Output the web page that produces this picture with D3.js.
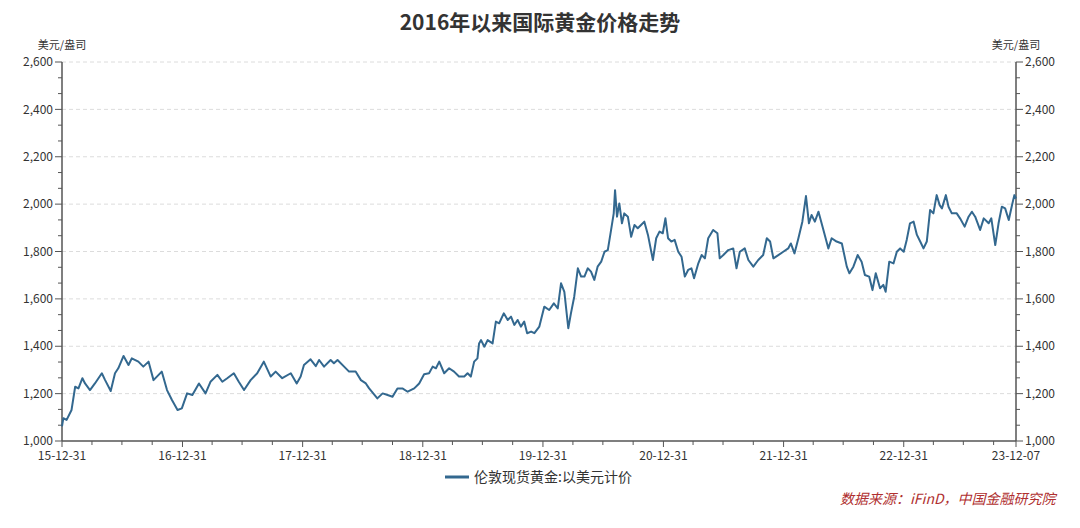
<!DOCTYPE html>
<html><head><meta charset="utf-8">
<script src="https://cdn.jsdelivr.net/npm/d3@7/dist/d3.min.js"></script>
<style>
html,body{margin:0;padding:0;background:#fff;}
svg{display:block;font-family:"Noto Sans CJK SC","Noto Sans",sans-serif;}
</style></head>
<body><svg id="chart" width="1080" height="528"></svg>
<script>
const title = "2016年以来国际黄金价格走势";
const unitLabel = "美元/盎司";
const seriesName = "伦敦现货黄金:以美元计价";
const sourceText = "数据来源：iFinD，中国金融研究院";
const yTicks = [1000,1200,1400,1600,1800,2000,2200,2400,2600];
const xTickLabels = ["15-12-31","16-12-31","17-12-31","18-12-31","19-12-31","20-12-31","21-12-31","22-12-31","23-12-07"];
const xTickDates = ["2015-12-31","2016-12-31","2017-12-31","2018-12-31","2019-12-31","2020-12-31","2021-12-31","2022-12-31","2023-12-07"];

const dates = [
"2015-12-31","2016-01-04","2016-01-14","2016-01-29","2016-02-09","2016-02-19","2016-03-02","2016-03-10","2016-03-25","2016-04-09","2016-04-30","2016-05-10","2016-05-27","2016-06-09","2016-06-19","2016-07-05","2016-07-20","2016-07-30","2016-08-19","2016-09-03","2016-09-19","2016-10-04","2016-10-29","2016-11-14","2016-11-29","2016-12-16","2016-12-29",
"2017-01-14","2017-01-30","2017-02-19","2017-03-11","2017-03-26","2017-04-16","2017-05-01","2017-05-16","2017-06-05","2017-06-20","2017-07-06","2017-07-26","2017-08-15","2017-09-04","2017-09-25","2017-10-10","2017-10-30","2017-11-25","2017-12-13","2017-12-25",
"2018-01-04","2018-01-24","2018-02-09","2018-02-19","2018-03-06","2018-03-26","2018-04-05","2018-04-16","2018-05-06","2018-05-21","2018-06-10","2018-06-26","2018-07-11","2018-07-21","2018-08-15","2018-08-31","2018-09-15","2018-09-30","2018-10-15","2018-10-30","2018-11-15","2018-12-05","2018-12-20",
"2019-01-04","2019-01-19","2019-01-30","2019-02-09","2019-02-19","2019-03-06","2019-03-21","2019-04-05","2019-04-20","2019-05-06","2019-05-16","2019-05-26","2019-06-05","2019-06-15","2019-06-20","2019-06-26","2019-07-06","2019-07-16","2019-07-31","2019-08-10","2019-08-20","2019-09-03","2019-09-15","2019-09-25","2019-10-05","2019-10-15","2019-10-25","2019-11-04","2019-11-13","2019-11-25","2019-12-05","2019-12-20",
"2020-01-04","2020-01-19","2020-02-02","2020-02-14","2020-02-24","2020-03-05","2020-03-17","2020-03-25","2020-04-04","2020-04-15","2020-04-25","2020-05-05","2020-05-15","2020-05-25","2020-06-04","2020-06-14","2020-06-25","2020-07-05","2020-07-15","2020-07-25","2020-08-02","2020-08-06","2020-08-12","2020-08-19","2020-08-27","2020-09-03","2020-09-14","2020-09-24","2020-10-04","2020-10-14","2020-10-24","2020-11-03","2020-11-14","2020-11-29","2020-12-09","2020-12-19","2020-12-29",
"2021-01-06","2021-01-14","2021-01-24","2021-02-03","2021-02-14","2021-02-24","2021-03-06","2021-03-16","2021-03-26","2021-04-03","2021-04-16","2021-04-26","2021-05-06","2021-05-16","2021-05-31","2021-06-13","2021-06-20","2021-07-01","2021-07-16","2021-07-31","2021-08-10","2021-08-20","2021-09-04","2021-09-15","2021-09-30","2021-10-15","2021-10-30","2021-11-10","2021-11-20","2021-11-30","2021-12-15","2021-12-30",
"2022-01-14","2022-01-22","2022-02-02","2022-02-14","2022-02-26","2022-03-09","2022-03-18","2022-03-26","2022-04-05","2022-04-16","2022-05-01","2022-05-16","2022-05-26","2022-06-10","2022-06-26","2022-07-11","2022-07-19","2022-07-31","2022-08-13","2022-08-25","2022-09-04","2022-09-17","2022-09-27","2022-10-07","2022-10-20","2022-10-30","2022-11-06","2022-11-17","2022-11-30","2022-12-10","2022-12-20","2022-12-31",
"2023-01-09","2023-01-19","2023-01-30","2023-02-09","2023-02-19","2023-03-01","2023-03-11","2023-03-21","2023-03-31","2023-04-10","2023-04-19","2023-04-26","2023-05-08","2023-05-16","2023-05-26","2023-06-10","2023-06-20","2023-07-04","2023-07-16","2023-07-26","2023-08-05","2023-08-20","2023-08-31","2023-09-15","2023-09-23","2023-10-05","2023-10-15","2023-10-25","2023-11-04","2023-11-15","2023-11-25","2023-12-02","2023-12-07"
];
const prices = [
1062,1096,1089,1131,1229,1222,1265,1243,1215,1243,1286,1257,1211,1286,1307,1359,1321,1349,1335,1314,1335,1257,1293,1215,1173,1131,1138,
1201,1194,1243,1201,1250,1279,1250,1265,1286,1250,1215,1257,1286,1335,1272,1293,1265,1286,1243,1272,
1321,1345,1316,1342,1314,1342,1328,1342,1314,1293,1293,1257,1243,1222,1180,1201,1194,1187,1222,1222,1208,1222,1243,
1282,1286,1314,1307,1335,1286,1307,1293,1272,1272,1286,1272,1335,1349,1412,1426,1398,1426,1412,1504,1497,1539,1511,1525,1490,1511,1483,1504,1455,1462,1455,1483,
1567,1553,1581,1560,1666,1630,1476,1539,1609,1729,1694,1694,1729,1715,1680,1736,1757,1799,1806,1891,1961,2059,1947,2003,1919,1961,1947,1862,1912,1898,1912,1926,1870,1764,1856,1884,1877,
1940,1856,1842,1849,1799,1778,1694,1722,1729,1687,1750,1785,1771,1856,1891,1877,1771,1785,1806,1813,1729,1799,1813,1764,1736,1764,1785,1856,1842,1771,1785,1799,
1813,1834,1792,1856,1926,2034,1919,1954,1926,1968,1891,1813,1856,1842,1834,1736,1708,1736,1785,1757,1701,1694,1637,1708,1645,1659,1630,1757,1750,1799,1813,1799,
1849,1919,1926,1870,1842,1813,1842,1975,1961,2038,1996,1982,2038,1989,1961,1961,1940,1905,1947,1968,1947,1891,1940,1919,1940,1827,1919,1989,1982,1933,1996,2038,2024
];

const parse = d3.utcParse("%Y-%m-%d");
const data = dates.map((d,i)=>({date:parse(d), value:prices[i]}));

const svg = d3.select("#chart");
const margin = {left:62, right:64, top:62, bottom:87};
const W = 1080, H = 528;
const x = d3.scaleUtc().domain([parse(xTickDates[0]), parse(xTickDates[xTickDates.length-1])]).range([margin.left, W-margin.right]);
const y = d3.scaleLinear().domain([1000,2600]).range([H-margin.bottom, margin.top]);

const textColor = "#333";
const axisColor = "#555";
const lineColor = "#33688f";

// gridlines
svg.append("g").selectAll("line").data(yTicks.filter(t=>t>1000)).join("line")
  .attr("x1", margin.left).attr("x2", W-margin.right)
  .attr("y1", d=>y(d)).attr("y2", d=>y(d))
  .attr("stroke", "#dcdcdc").attr("stroke-width", 1).attr("stroke-dasharray", "4,3");

// minor y ticks (3 per interval)
const minorY = [];
for (let i=0;i<yTicks.length-1;i++){ const a=yTicks[i], b=yTicks[i+1]; minorY.push(a+(b-a)/3, a+2*(b-a)/3); }

function yAxis(side){
  const g = svg.append("g");
  const ax = side==="left" ? margin.left : W-margin.right;
  const dir = side==="left" ? -1 : 1;
  g.append("line").attr("x1",ax).attr("x2",ax).attr("y1",y(2600)).attr("y2",y(1000)).attr("stroke",axisColor).attr("stroke-width",1.5);
  g.selectAll(".maj").data(yTicks).join("line").attr("x1",ax).attr("x2",ax+dir*7).attr("y1",d=>y(d)).attr("y2",d=>y(d)).attr("stroke",axisColor).attr("stroke-width",1);
  g.selectAll(".min").data(minorY).join("line").attr("x1",ax).attr("x2",ax+dir*4).attr("y1",d=>y(d)).attr("y2",d=>y(d)).attr("stroke",axisColor).attr("stroke-width",1);
  g.selectAll("text").data(yTicks).join("text")
    .attr("x", ax+dir*9).attr("y", d=>y(d)).attr("dy","0.35em")
    .attr("text-anchor", side==="left"?"end":"start")
    .attr("font-size", 12).attr("fill", textColor)
    .text(d=>d3.format(",")(d));
  svg.append("text").attr("x", ax).attr("y", 49).attr("text-anchor","middle").attr("font-size",11).attr("fill",textColor).text(unitLabel);
}
yAxis("left"); yAxis("right");

// x axis
const x0 = y(1000);
svg.append("line").attr("x1",margin.left).attr("x2",W-margin.right).attr("y1",x0).attr("y2",x0).attr("stroke",axisColor).attr("stroke-width",1.5);
const quarterTicks = d3.utcMonths(parse("2016-01-01"), parse("2023-12-01"), 3).map(m=>d3.utcDay.offset(m,-1)).filter(d=>d.getUTCMonth()!==11);
svg.append("g").selectAll("line").data(quarterTicks).join("line")
  .attr("x1",d=>x(d)).attr("x2",d=>x(d)).attr("y1",x0).attr("y2",x0+4).attr("stroke",axisColor);
svg.append("g").selectAll("line").data(xTickDates.map(parse)).join("line")
  .attr("x1",d=>x(d)).attr("x2",d=>x(d)).attr("y1",x0).attr("y2",x0+6).attr("stroke",axisColor);
svg.append("g").selectAll("text").data(xTickDates).join("text")
  .attr("x",(d)=>x(parse(d))).attr("y", x0+19).attr("text-anchor","middle")
  .attr("font-size",12).attr("fill",textColor)
  .text((d,i)=>xTickLabels[i]);

// line
const line = d3.line().x(d=>x(d.date)).y(d=>y(d.value)).curve(d3.curveLinear);
svg.append("path").datum(data).attr("d", line).attr("fill","none").attr("stroke",lineColor).attr("stroke-width",2).attr("stroke-linejoin","round");

// title
svg.append("text").attr("x", 540).attr("y", 30).attr("text-anchor","middle").attr("font-size",21).attr("font-weight","bold").attr("fill","#333").text(title);

// legend
svg.append("line").attr("x1",445).attr("x2",469).attr("y1",477).attr("y2",477).attr("stroke",lineColor).attr("stroke-width",3);
svg.append("text").attr("x",474).attr("y",477).attr("dy","0.35em").attr("font-size",14).attr("fill",textColor).text(seriesName);

// source
svg.append("text").attr("x",840).attr("y",499).attr("dy","0.35em").attr("font-size",14).attr("font-style","italic").attr("fill","#b03030").text(sourceText);
</script></body></html>
